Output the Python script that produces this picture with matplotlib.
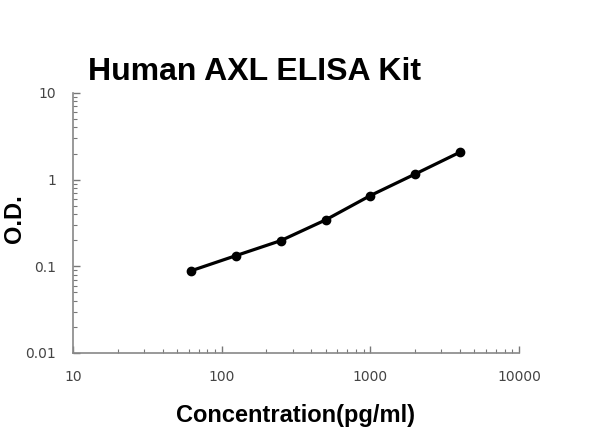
"""
Human AXL ELISA Kit standard curve (log-log)
"""

import matplotlib
matplotlib.use('Agg')
import matplotlib.pyplot as plt
from matplotlib.ticker import LogLocator, FixedLocator, FixedFormatter, NullFormatter

# Standard curve data
concentration = [62.5, 125, 250, 500, 1000, 2000, 4000]
od_values = [0.089, 0.133, 0.198, 0.343, 0.655, 1.16, 2.07]

x_ticks = [10, 100, 1000, 10000]
x_tick_labels = ['10', '100', '1000', '10000']
y_ticks = [0.01, 0.1, 1, 10]
y_tick_labels = ['0.01', '0.1', '1', '10']

TITLE = 'Human AXL ELISA Kit'
X_LABEL = 'Concentration(pg/ml)'
Y_LABEL = 'O.D.'


def main():
    fig = plt.figure(figsize=(6, 4.47), dpi=100)
    ax = fig.add_axes([0.1217, 0.2103, 0.7433, 0.5817])

    ax.plot(concentration, od_values, color='black', linewidth=2.3,
            marker='o', markersize=6, zorder=3)

    ax.set_xscale('log')
    ax.set_yscale('log')
    ax.set_xlim(10, 10000)
    ax.set_ylim(0.01, 10)

    # Major / minor ticks
    ax.xaxis.set_major_locator(FixedLocator(x_ticks))
    ax.xaxis.set_major_formatter(FixedFormatter(x_tick_labels))
    ax.yaxis.set_major_locator(FixedLocator(y_ticks))
    ax.yaxis.set_major_formatter(FixedFormatter(y_tick_labels))
    ax.xaxis.set_minor_locator(LogLocator(base=10, subs=range(2, 10)))
    ax.yaxis.set_minor_locator(LogLocator(base=10, subs=range(2, 10)))
    ax.xaxis.set_minor_formatter(NullFormatter())
    ax.yaxis.set_minor_formatter(NullFormatter())

    ax.tick_params(which='major', direction='in', length=5, width=1,
                   color='#777777', labelsize=10, labelcolor='#444444', pad=12)
    ax.tick_params(which='minor', direction='in', length=3, width=0.8,
                   color='#777777')

    for side in ['top', 'right']:
        ax.spines[side].set_visible(False)
    for side in ['left', 'bottom']:
        ax.spines[side].set_color('#888888')
        ax.spines[side].set_linewidth(1.2)

    # Titles
    fig.text(0.425, 0.838, TITLE, ha='center', va='center', fontsize=23,
             fontweight='bold', family='Liberation Sans')
    fig.text(0.493, 0.07, X_LABEL, ha='center', va='center', fontsize=17,
             fontweight='bold', family='Liberation Sans')
    fig.text(0.024, 0.512, Y_LABEL, ha='center', va='center', fontsize=17,
             fontweight='bold', rotation=90, family='Liberation Sans')

    fig.savefig('out.png', dpi=100, facecolor='white')
    plt.close(fig)


if __name__ == '__main__':
    main()
